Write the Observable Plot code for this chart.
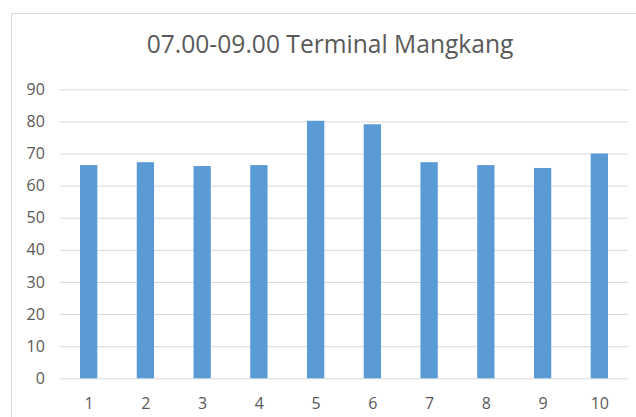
<!DOCTYPE html>
<html>
<head>
<meta charset="utf-8">
<script src="https://cdn.jsdelivr.net/npm/d3@7"></script>
<script src="https://cdn.jsdelivr.net/npm/@observablehq/plot@0.6"></script>
<style>
  html, body { margin: 0; padding: 0; background: #fff; }
  #wrap { position: relative; width: 636px; height: 417px; overflow: hidden; font-family: "Open Sans", sans-serif; }
  #frame { position: absolute; left: 10.5px; top: 12.5px; width: 700px; height: 500px; border-left: 1.5px solid #d9d9d9; border-top: 1.5px solid #d9d9d9; box-sizing: border-box; }
  #title { position: absolute; left: 0; top: 28px; width: 660px; text-align: center; font-size: 24.6px; color: #595959; white-space: nowrap; line-height: 32px; }
  #chart { position: absolute; left: 0; top: 0; }
</style>
</head>
<body>
<div id="wrap">
  <div id="frame"></div>
  <div id="chart"></div>
  <div id="title">07.00-09.00 Terminal Mangkang</div>
</div>
<script>
const titleText = "07.00-09.00 Terminal Mangkang";
const categories = [1, 2, 3, 4, 5, 6, 7, 8, 9, 10];
const values = [66.4, 67.3, 66.1, 66.4, 80.2, 79.1, 67.3, 66.4, 65.5, 70.0];
const yTicks = [0, 10, 20, 30, 40, 50, 60, 70, 80, 90];

const data = categories.map((c, i) => ({ category: c, value: values[i] }));

const chart = Plot.plot({
  width: 636,
  height: 417,
  marginLeft: 60.3,
  marginRight: 8.3,
  marginTop: 89.3,
  marginBottom: 38.7,
  style: { background: "transparent", fontFamily: "Open Sans, sans-serif", fontSize: "16px", color: "#595959" },
  x: { type: "band", domain: categories, paddingInner: 0.695, paddingOuter: 0.3475, align: 0.5, round: false, label: null, tickSize: 0, tickPadding: 19 },
  y: { domain: [0, 90], ticks: yTicks, label: null, tickSize: 0, tickPadding: 16 },
  marks: [
    Plot.ruleY(yTicks, { stroke: "#d9d9d9", strokeWidth: 1 }),
    Plot.barY(data, { x: "category", y: "value", fill: "#5b9bd5" }),
    Plot.axisY({ ticks: yTicks, tickSize: 0, tickPadding: 16, label: null, fill: "#595959" }),
    Plot.axisX({ tickSize: 0, tickPadding: 19, label: null, fill: "#595959" })
  ]
});
document.getElementById("chart").appendChild(chart);
document.getElementById("title").textContent = titleText;
</script>
</body>
</html>
